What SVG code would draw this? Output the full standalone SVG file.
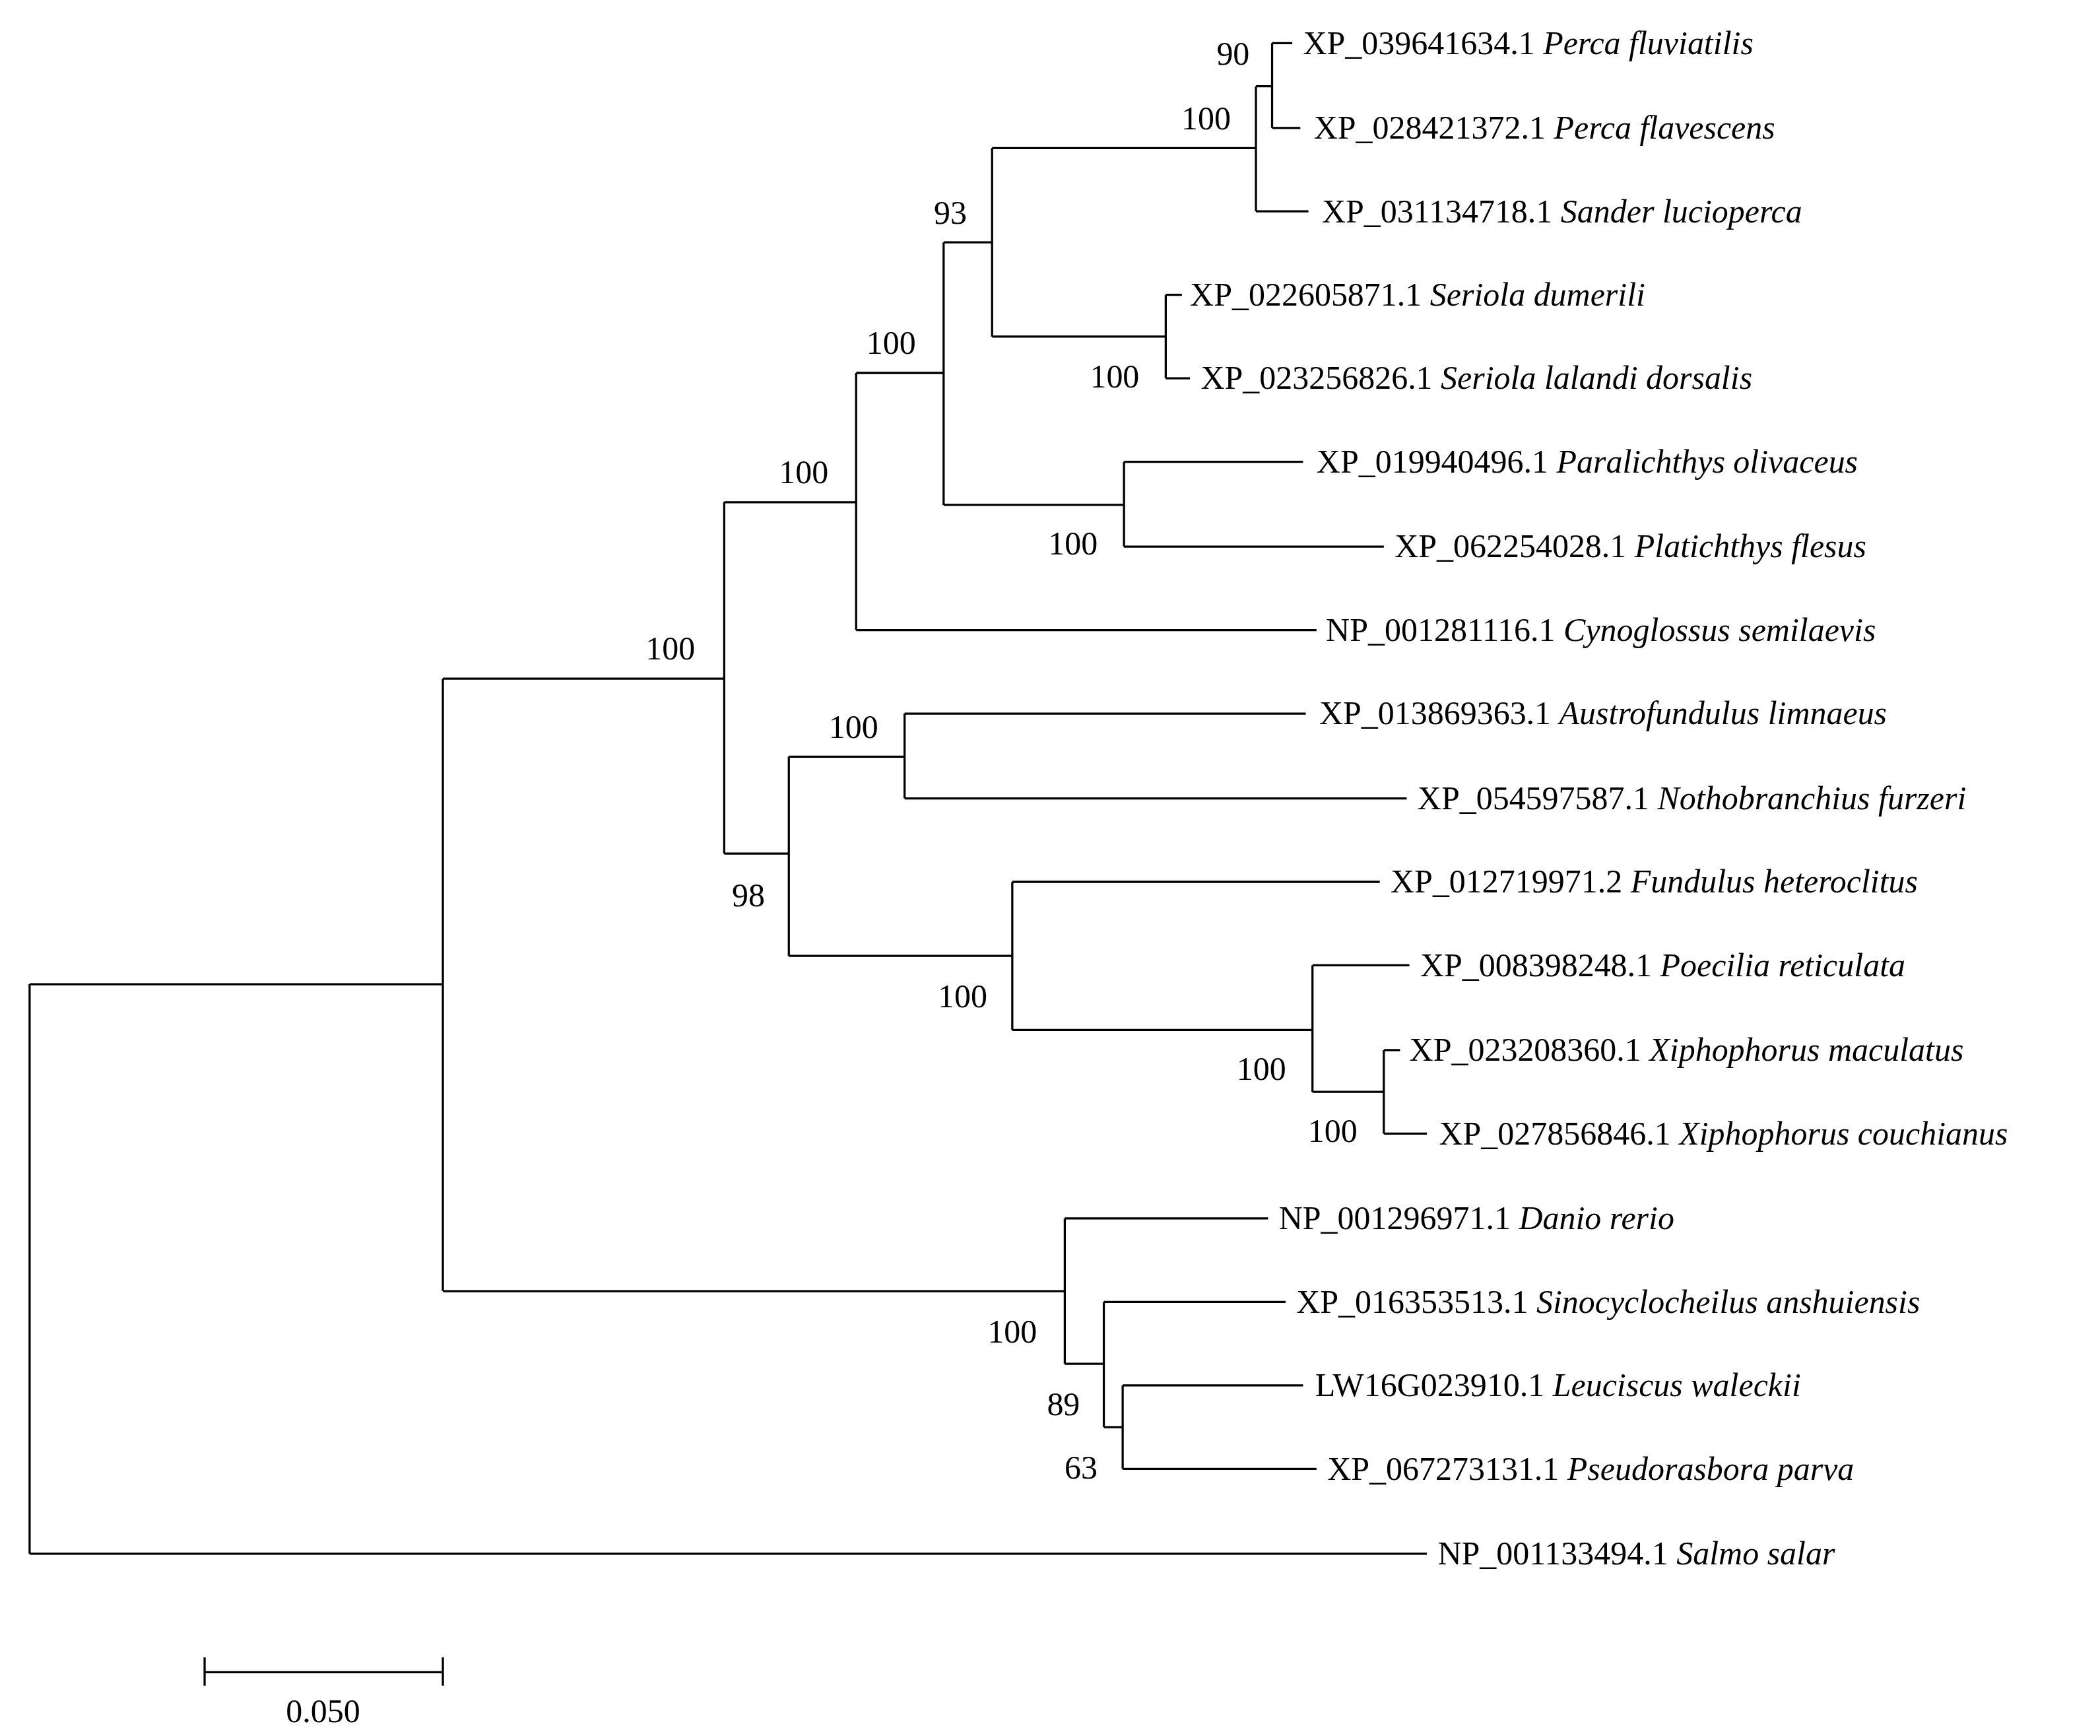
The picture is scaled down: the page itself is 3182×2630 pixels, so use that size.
<svg xmlns="http://www.w3.org/2000/svg" width="3182" height="2630" viewBox="0 0 3182 2630">
<style>
text{font-family:"Liberation Serif","Times New Roman",serif;font-size:24.5px;fill:#000}
.b{text-anchor:middle}
i,.i{font-style:italic}
path{fill:none;stroke:#000;stroke-width:1.6}
</style>
<rect width="3182" height="2630" fill="#fff"/>
<g transform="scale(2.0397)">
<g id="connectors">
<path d="M22,731V1154M22,731H329M22,1154H1060"/>
<path d="M329,504V959M329,504H538M329,959H791"/>
<path d="M538,373V634M538,373H636M538,634H586"/>
<path d="M636,277V468M636,277H701M636,468H978"/>
<path d="M701,180V375M701,180H737M701,375H835"/>
<path d="M737,110V250M737,110H933M737,250H866"/>
<path d="M933,64V157M933,64H945M933,157H972"/>
<path d="M945,32V95M945,32H960M945,95H966"/>
<path d="M866,219V281M866,219H878M866,281H884"/>
<path d="M835,343V406M835,343H968M835,406H1028"/>
<path d="M586,562V710M586,562H672M586,710H752"/>
<path d="M672,530V593M672,530H970M672,593H1045"/>
<path d="M752,655V765M752,655H1025M752,765H975"/>
<path d="M975,717V811M975,717H1047M975,811H1028"/>
<path d="M1028,780V842M1028,780H1040M1028,842H1060"/>
<path d="M791,905V1013M791,905H942M791,1013H820"/>
<path d="M820,967V1060M820,967H955M820,1060H834"/>
<path d="M834,1029V1091M834,1029H968M834,1091H978"/>
</g>
<g id="leaves">
<text x="968" y="40">XP_039641634.1 <tspan class="i">Perca fluviatilis</tspan></text>
<text x="976" y="103">XP_028421372.1 <tspan class="i">Perca flavescens</tspan></text>
<text x="982" y="165">XP_031134718.1 <tspan class="i">Sander lucioperca</tspan></text>
<text x="884" y="227">XP_022605871.1 <tspan class="i">Seriola dumerili</tspan></text>
<text x="892" y="289">XP_023256826.1 <tspan class="i">Seriola lalandi dorsalis</tspan></text>
<text x="978" y="351">XP_019940496.1 <tspan class="i">Paralichthys olivaceus</tspan></text>
<text x="1036" y="414">XP_062254028.1 <tspan class="i">Platichthys flesus</tspan></text>
<text x="985" y="476">NP_001281116.1 <tspan class="i">Cynoglossus semilaevis</tspan></text>
<text x="980" y="538">XP_013869363.1 <tspan class="i">Austrofundulus limnaeus</tspan></text>
<text x="1053" y="601">XP_054597587.1 <tspan class="i">Nothobranchius furzeri</tspan></text>
<text x="1033" y="663">XP_012719971.2 <tspan class="i">Fundulus heteroclitus</tspan></text>
<text x="1055" y="725">XP_008398248.1 <tspan class="i">Poecilia reticulata</tspan></text>
<text x="1047" y="788">XP_023208360.1 <tspan class="i">Xiphophorus maculatus</tspan></text>
<text x="1069" y="850">XP_027856846.1 <tspan class="i">Xiphophorus couchianus</tspan></text>
<text x="950" y="913">NP_001296971.1 <tspan class="i">Danio rerio</tspan></text>
<text x="963" y="975">XP_016353513.1 <tspan class="i">Sinocyclocheilus anshuiensis</tspan></text>
<text x="977" y="1037">LW16G023910.1 <tspan class="i">Leuciscus waleckii</tspan></text>
<text x="986" y="1099">XP_067273131.1 <tspan class="i">Pseudorasbora parva</tspan></text>
<text x="1068" y="1162">NP_001133494.1 <tspan class="i">Salmo salar</tspan></text>
</g>
<g id="bootstrap">
<text class="b" x="916" y="48">90</text>
<text class="b" x="896" y="96">100</text>
<text class="b" x="706" y="166">93</text>
<text class="b" x="662" y="263">100</text>
<text class="b" x="828" y="288">100</text>
<text class="b" x="597" y="359">100</text>
<text class="b" x="797" y="412">100</text>
<text class="b" x="498" y="490">100</text>
<text class="b" x="634" y="548">100</text>
<text class="b" x="556" y="673">98</text>
<text class="b" x="715" y="748">100</text>
<text class="b" x="937" y="802">100</text>
<text class="b" x="990" y="848">100</text>
<text class="b" x="752" y="997">100</text>
<text class="b" x="790" y="1051">89</text>
<text class="b" x="803" y="1098">63</text>
</g>
<g id="scalebar">
<path d="M152,1242H329M152,1231V1252M329,1231V1252"/>
<text class="b" x="240" y="1279">0.050</text>
</g>
</g>
</svg>
